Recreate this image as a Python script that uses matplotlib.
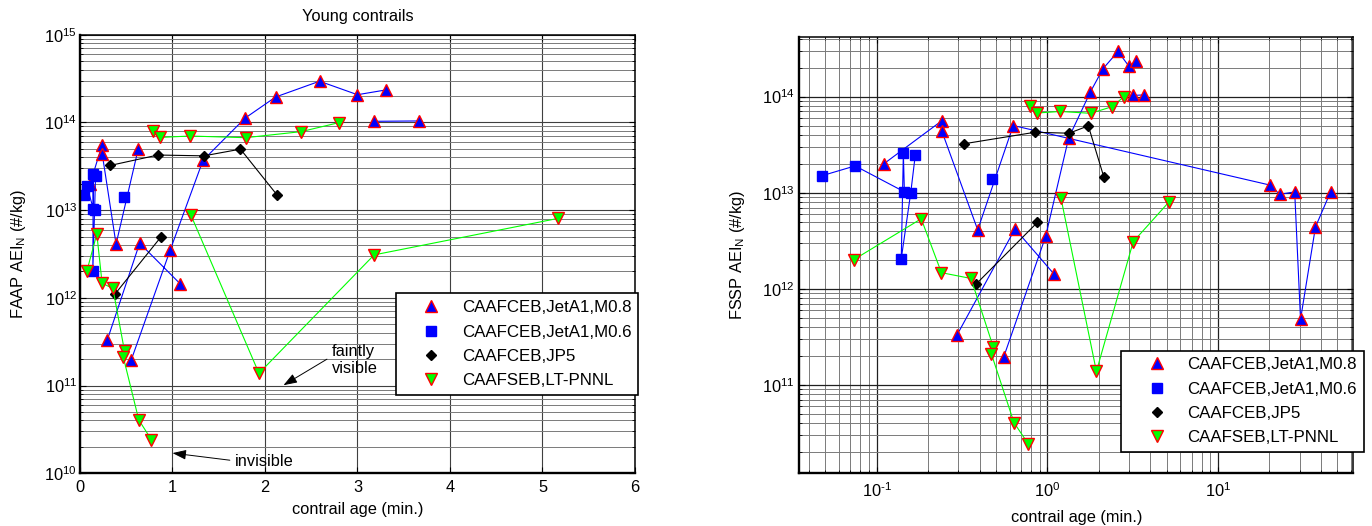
import numpy as np
import matplotlib.pyplot as plt
from matplotlib.lines import Line2D
from matplotlib.ticker import MultipleLocator, FuncFormatter

plt.rcParams['font.family'] = ['Liberation Sans', 'DejaVu Sans']
plt.rcParams['mathtext.fontset'] = 'custom'
plt.rcParams['mathtext.rm'] = 'Liberation Sans'
plt.rcParams['mathtext.it'] = 'Liberation Sans:italic'
plt.rcParams['axes.unicode_minus'] = False
plt.rcParams['font.size'] = 11.8

labels = ['CAAFCEB,JetA1,M0.8', 'CAAFCEB,JetA1,M0.6',
          'CAAFCEB,JP5', 'CAAFSEB,LT-PNNL']

# contrail age (min) and AEI_N (#/kg); nan splits the connected runs
t_m08 = np.array([0.11, 0.24, 0.24, 0.39, 0.63, 20.1, 23.0, 28.1, 30.4, 37.2, 45.6,
                  np.nan, 0.295, 0.645, 1.085,
                  np.nan, 0.555, 0.975, 1.33, 1.785, 2.115, 2.59, 3.0, 3.31,
                  np.nan, 3.18, 3.67])
aei_m08 = np.array([2.0e13, 5.6e13, 4.4e13, 4.1e12, 5.0e13, 1.2e13, 9.6e12, 1.02e13, 4.8e11, 4.4e12, 1.02e13,
                    np.nan, 3.3e11, 4.2e12, 1.44e12,
                    np.nan, 1.97e11, 3.5e12, 3.7e13, 1.12e14, 1.95e14, 2.95e14, 2.07e14, 2.35e14,
                    np.nan, 1.03e14, 1.04e14])

t_m06 = np.array([0.0476, 0.0746, 0.145, 0.143, 0.139, 0.158, 0.168, np.nan, 0.476])
aei_m06 = np.array([1.5e13, 1.9e13, 1.02e13, 2.6e13, 2.05e12, 1.0e13, 2.47e13, np.nan, 1.4e13])

t_jp5 = np.array([0.325, 0.842, 1.34, 1.735, 2.135, np.nan, 0.38, 0.872])
aei_jp5 = np.array([3.23e13, 4.25e13, 4.16e13, 4.96e13, 1.47e13, np.nan, 1.11e12, 4.9e12])

t_pnnl = np.array([0.073, 0.182, 0.239, 0.356, 0.482, 0.469, 0.636, 0.772,
                   np.nan, 0.788, 0.867, 1.19, 1.79, 2.39, 2.8,
                   np.nan, 1.2, 1.935, 3.18, 5.17])
aei_pnnl = np.array([2.0e12, 5.35e12, 1.47e12, 1.28e12, 2.45e11, 2.1e11, 4.05e10, 2.42e10,
                     np.nan, 7.9e13, 6.75e13, 7.0e13, 6.7e13, 7.85e13, 9.95e13,
                     np.nan, 8.75e12, 1.38e11, 3.09e12, 8.06e12])

styles = [
    dict(marker='^', color='#0000ff', mfc='#0000ff', mec='#ff0000', ms=9),
    dict(marker='s', color='#0000ff', mfc='#0000ff', mec='#0000ff', ms=7),
    dict(marker='D', color='k', mfc='k', mec='k', ms=5.5),
    dict(marker='v', color='#00ff00', mfc='#00ff00', mec='#ff0000', ms=9),
]


def pow10(v, pos):
    e = int(round(np.log10(v)))
    s = str(e).replace('-', r'\text{-}')
    return r'$10^{%s}$' % s


fig = plt.figure(figsize=(13.72, 5.26), dpi=100)
ax1 = fig.add_axes([0.0583, 0.1002, 0.4045, 0.8338])
ax2 = fig.add_axes([0.5824, 0.1002, 0.404, 0.830])

# left panel only shows the first 6 minutes
left_m08 = np.where(t_m08 <= 6, aei_m08, np.nan)
data_left = [(t_m08, left_m08), (t_m06, aei_m06), (t_jp5, aei_jp5), (t_pnnl, aei_pnnl)]
data_right = [(t_m08, aei_m08), (t_m06, aei_m06), (t_jp5, aei_jp5), (t_pnnl, aei_pnnl)]

for ax, data in [(ax1, data_left), (ax2, data_right)]:
    for (t, v), st in zip(data, styles):
        ax.plot(t, v, lw=0.8, mew=1, **st)
    ax.set_yscale('log')
    ax.set_axisbelow(True)
    ax.tick_params(which='both', direction='in', top=True, right=True)
    ax.tick_params(which='major', length=4)
    ax.tick_params(which='minor', length=2.5)
    for s in ax.spines.values():
        s.set_linewidth(1.1)
    ax.spines['left'].set_linewidth(1.7)
    ax.spines['bottom'].set_linewidth(1.7)
    handles = [Line2D([], [], ls='none', mew=1, **st) for st in styles]
    if ax is ax1:
        anchor = (0.569, 0.41)
    else:
        anchor = (0.581, 0.281)
    leg = ax.legend(handles, labels, loc='upper left', bbox_to_anchor=anchor,
                    borderaxespad=0, fontsize=12.2, handlelength=3.4, handletextpad=0.12,
                    labelspacing=0.55, fancybox=False, edgecolor='k', framealpha=1,
                    borderpad=0.4)
    leg.get_frame().set_linewidth(1.2)

# left: linear age axis
ax1.set_xlim(0, 6)
ax1.set_ylim(1e10, 1e15)
ax1.xaxis.set_major_locator(MultipleLocator(1))
ax1.grid(True, which='major', color='#404040', lw=0.8)
ax1.grid(True, which='minor', axis='y', color='#7a7a7a', lw=0.7)
ax1.tick_params(axis='y', pad=2)
ax1.tick_params(axis='x', pad=5)
ax1.set_xlabel('contrail age (min.)', labelpad=5)
ax1.set_ylabel('FAAP AEI$_\\mathregular{N}$ (#/kg)', labelpad=12)
ax1.set_title('Young contrails', fontsize=11.8, pad=10)

ax1.annotate('', xy=(2.2, 1.01e11), xytext=(2.67, 2.0e11),
             arrowprops=dict(arrowstyle='-|>,head_length=0.7,head_width=0.25',
                             color='k', lw=0.7, shrinkA=0, shrinkB=0))
ax1.text(2.72, 1.95e11, 'faintly\nvisible', ha='left', va='center', linespacing=1.15)
ax1.annotate('', xy=(1.0, 1.7e10), xytext=(1.62, 1.41e10),
             arrowprops=dict(arrowstyle='-|>,head_length=0.7,head_width=0.25',
                             color='k', lw=0.7, shrinkA=0, shrinkB=0))
ax1.text(1.67, 1.35e10, 'invisible', ha='left', va='center')

# right: log age axis
ax2.set_xscale('log')
ax2.set_xlim(0.035, 62)
ax2.set_ylim(1.2e10, 4.2e14)
ax2.xaxis.set_major_formatter(FuncFormatter(pow10))
ax2.grid(True, which='major', color='#202020', lw=0.9)
ax2.grid(True, which='minor', color='#7a7a7a', lw=0.7)
ax2.tick_params(axis='y', pad=3)
ax2.tick_params(axis='x', pad=6)
ax2.set_xlabel('contrail age (min.)', labelpad=7)
ax2.set_ylabel('FSSP AEI$_\\mathregular{N}$ (#/kg)', labelpad=11)

fig.savefig('out.png', dpi=100)
